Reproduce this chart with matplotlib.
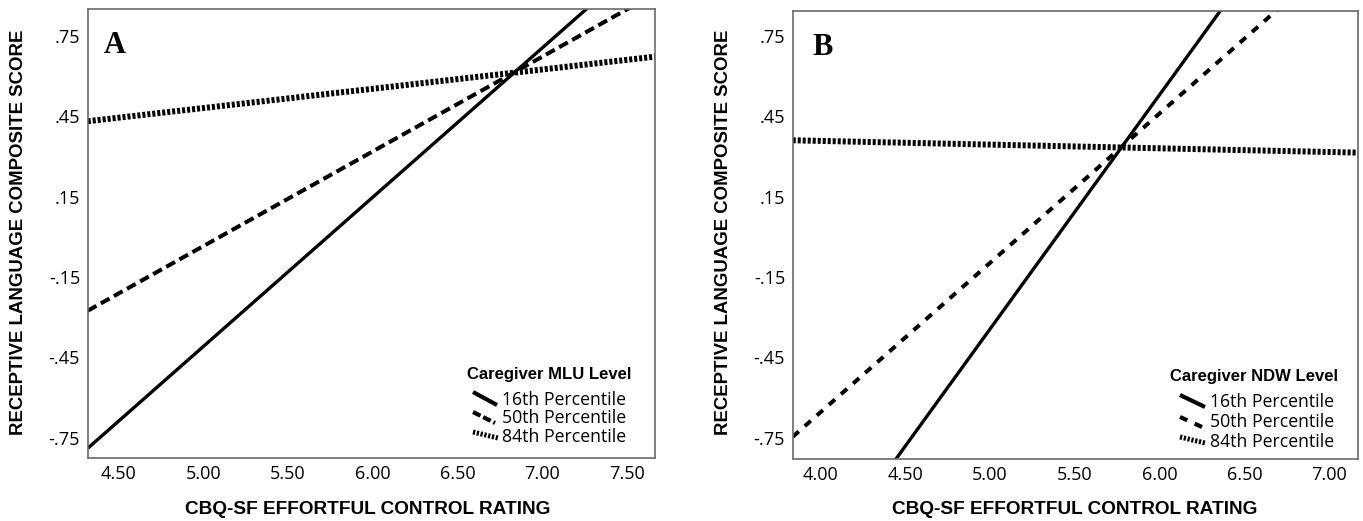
import matplotlib
matplotlib.use("Agg")
import matplotlib.pyplot as plt
from matplotlib.lines import Line2D

# ---------------- data ----------------
# Panel A: predicted scores at the left/right edge of the EC range, by caregiver MLU level
ec_a = [4.319, 7.663]
a_p16 = [-0.790, 1.076]
a_p50 = [-0.276, 0.908]
a_p84 = [0.432, 0.673]

# Panel B: predicted scores by caregiver NDW level
ec_b = [3.837, 7.168]
b_p16 = [-1.362, 1.553]
b_p50 = [-0.746, 1.113]
b_p84 = [0.361, 0.315]

a_xticks = [4.50, 5.00, 5.50, 6.00, 6.50, 7.00, 7.50]
b_xticks = [4.00, 4.50, 5.00, 5.50, 6.00, 6.50, 7.00]
yticks = [0.75, 0.45, 0.15, -0.15, -0.45, -0.75]
ytick_labels = [".75", ".45", ".15", "-.15", "-.45", "-.75"]
legend_labels = ["16th Percentile", "50th Percentile", "84th Percentile"]

xlabel = "CBQ-SF EFFORTFUL CONTROL RATING"
ylabel = "RECEPTIVE LANGUAGE COMPOSITE SCORE"

# ---------------- style ----------------
plt.rcParams['lines.scale_dashes'] = False
W, H = 1363, 521
fig = plt.figure(figsize=(W / 100, H / 100), dpi=100)

def fx(px):
    return px / W

def fy(py):
    return 1 - py / H

TICK_FONT = ['Open Sans', 'DejaVu Sans']
BOLD_FONT = ['Liberation Sans', 'DejaVu Sans']
SERIF = ['Liberation Serif', 'DejaVu Serif']

solid_kw = dict(color='black', lw=2.4, solid_capstyle='butt')
dotted_kw = dict(color='black', lw=4.3, dashes=(2.2, 1.4), dash_capstyle='butt')

def make_axes(l, t, r, b):
    ax = fig.add_axes([fx(l), fy(b), fx(r) - fx(l), fy(t) - fy(b)])
    for s in ax.spines.values():
        s.set_color('#6a6a6a')
        s.set_linewidth(1.2)
    ax.tick_params(length=0, labelsize=13, pad=5.5)
    return ax

def style_ticks(ax, xt):
    ax.set_xticks(xt)
    ax.set_xticklabels([f"{v:.2f}" for v in xt], family=TICK_FONT, fontsize=13)
    ax.set_yticks(yticks)
    ax.set_yticklabels(ytick_labels, family=TICK_FONT, fontsize=13)
    ax.tick_params(axis='x', pad=5)

# ---------------- Panel A ----------------
axA = make_axes(87.7, 9.3, 654.8, 457.7)
axA.plot(ec_a, a_p16, **solid_kw)
axA.plot(ec_a, a_p50, color='black', lw=2.9, dashes=(7.2, 3.6), dash_capstyle='butt')
axA.plot(ec_a, a_p84, **dotted_kw)
axA.set_xlim(4.319, 7.663)
axA.set_ylim(-0.825, 0.850)
style_ticks(axA, a_xticks)

# ---------------- Panel B ----------------
axB = make_axes(792.7, 10.7, 1357.6, 458.7)
axB.plot(ec_b, b_p16, **solid_kw)
axB.plot(ec_b, b_p50, color='black', lw=2.9, dashes=(5.8, 5.8), dash_capstyle='butt')
axB.plot(ec_b, b_p84, **dotted_kw)
axB.set_xlim(3.837, 7.168)
axB.set_ylim(-0.828, 0.845)
style_ticks(axB, b_xticks)

# ---------------- labels ----------------
for cx in (368, 1075):
    fig.text(fx(cx), fy(510), xlabel, ha='center', va='center',
             family=BOLD_FONT, fontweight='bold', fontsize=13.7)
for cx in (18.5, 724):
    fig.text(fx(cx), fy(232), ylabel, ha='center', va='center', rotation=90,
             family=BOLD_FONT, fontweight='bold', fontsize=13.4)

fig.text(fx(104), fy(53), "A", ha='left', va='baseline',
         family=SERIF, fontweight='bold', fontsize=22)
fig.text(fx(812), fy(55), "B", ha='left', va='baseline',
         family=SERIF, fontweight='bold', fontsize=22)

# ---------------- legends ----------------
def legend(title, tx, ty, handles, text_x, text_ys, b_style=False):
    fig.text(fx(tx), fy(ty), title, ha='left', va='center',
             family=BOLD_FONT, fontweight='bold', fontsize=12)
    styles = [
        dict(color='black', lw=3.0, solid_capstyle='butt'),
        dict(color='black', lw=3.0, dashes=(5.8, 5.8) if b_style else (6.0, 2.2),
             dash_capstyle='butt'),
        dict(color='black', lw=3.6, dashes=(1.6, 1.2), dash_capstyle='butt'),
    ]
    for (p0, p1), st, lab, y in zip(handles, styles, legend_labels, text_ys):
        fig.add_artist(Line2D([fx(p0[0]), fx(p1[0])], [fy(p0[1]), fy(p1[1])],
                              transform=fig.transFigure, **st))
        fig.text(fx(text_x), fy(y), lab, ha='left', va='center',
                 family=TICK_FONT, fontsize=12.7)

legend("Caregiver MLU Level", 467, 374,
       [((473, 392), (497, 405)), ((473, 412), (495, 423)), ((473, 432), (498, 438))],
       502, [400, 418, 437])
legend("Caregiver NDW Level", 1170, 376,
       [((1180, 395), (1205, 407)), ((1180, 417), (1202, 427)), ((1180, 437), (1205, 443))],
       1210, [402, 422, 442], b_style=True)

fig.savefig("out.png", dpi=100)
